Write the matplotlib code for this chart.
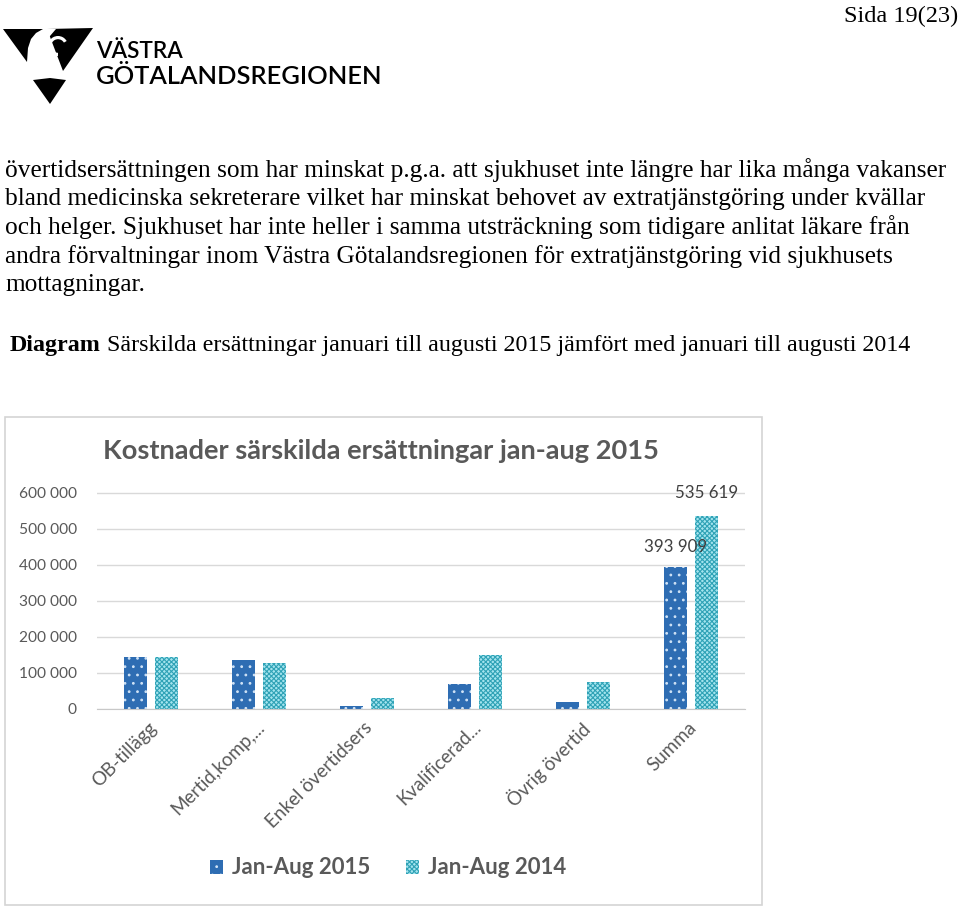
import matplotlib
matplotlib.use("Agg")
import matplotlib.pyplot as plt
from matplotlib.patches import Polygon, Rectangle, Circle, Wedge
import numpy as np

# ---------------- data ----------------
categories = ["OB-tillägg", "Mertid,komp,...", "Enkel övertidsers", "Kvalificerad...", "Övrig övertid", "Summa"]
values_2015 = [145000, 136000, 9000, 70000, 18500, 393909]
values_2014 = [145000, 127000, 31000, 150000, 74000, 535619]
series_names = ["Jan-Aug 2015", "Jan-Aug 2014"]
yticks = [0, 100000, 200000, 300000, 400000, 500000, 600000]
ytick_labels = ["0", "100 000", "200 000", "300 000", "400 000", "500 000", "600 000"]
value_labels_2015 = ["", "", "", "", "", "393 909"]
value_labels_2014 = ["", "", "", "", "", "535 619"]

chart_title = "Kostnader särskilda ersättningar jan-aug 2015"
page_label = "Sida 19(23)"
logo_line1 = "VÄSTRA"
logo_line2 = "GÖTALANDSREGIONEN"
body_lines = [
    "övertidsersättningen som har minskat p.g.a. att sjukhuset inte längre har lika många vakanser",
    "bland medicinska sekreterare vilket har minskat behovet av extratjänstgöring under kvällar",
    "och helger. Sjukhuset har inte heller i samma utsträckning som tidigare anlitat läkare från",
    "andra förvaltningar inom Västra Götalandsregionen för extratjänstgöring vid sjukhusets",
    "mottagningar.",
]
caption_bold = "Diagram"
caption_rest = "Särskilda ersättningar januari till augusti 2015 jämfört med januari till augusti 2014"

W, H = 960, 911
fig = plt.figure(figsize=(W / 100, H / 100), dpi=100)
fig.patch.set_facecolor("white")
renderer = fig.canvas.get_renderer()

# background axes in pixel coordinates
bg = fig.add_axes([0, 0, 1, 1])
bg.set_xlim(0, W)
bg.set_ylim(H, 0)
bg.axis("off")


def fit_width(t, target):
    bb = t.get_window_extent(renderer)
    t.set_fontsize(t.get_fontsize() * target / bb.width)
    return t


SERIF = ["Liberation Serif", "DejaVu Serif"]
SANS = ["Lato", "DejaVu Sans"]

# page header
t = bg.text(958, 22, page_label, family=SERIF, fontsize=14, ha="right", va="baseline", color="black")
fit_width(t, 115)

# logo shapes
bg.add_patch(Polygon([(3, 29), (43, 29), (36, 33), (31, 39), (28, 48), (27, 62)], closed=True, color="black", lw=0))
bg.add_patch(Polygon([(47, 29), (93, 28), (63, 71)], closed=True, color="black", lw=0))
bg.add_patch(Wedge((58, 46), 10, 90, 330, width=3.2, color="white", lw=0))
bg.add_patch(Polygon([(47, 29), (56, 29), (50, 36), (46, 44), (44, 36)], closed=True, color="white", lw=0))
bg.add_patch(Polygon([(33, 80), (50, 78), (66, 80), (50, 104)], closed=True, color="black", lw=0))
t1 = bg.text(96, 58, logo_line1, family=SANS, fontweight="semibold", fontsize=16, ha="left", va="baseline", color="black")
fit_width(t1, 87)
t2 = bg.text(96, 84, logo_line2, family=SANS, fontweight="semibold", fontsize=16, ha="left", va="baseline", color="black")
fit_width(t2, 286)

# body text
baselines = [177, 205.5, 234, 262.5, 291]
first = bg.text(5, baselines[0], body_lines[0], family=SERIF, fontsize=14, ha="left", va="baseline", color="black")
fit_width(first, 947)
fs_body = first.get_fontsize()
for line, yb in zip(body_lines[1:], baselines[1:]):
    bg.text(5, yb, line, family=SERIF, fontsize=fs_body, ha="left", va="baseline", color="black")

# caption
cb = bg.text(10, 351, caption_bold, family=SERIF, fontweight="bold", fontsize=fs_body, ha="left", va="baseline")
cr = bg.text(10, 351, " " + caption_rest, family=SERIF, fontsize=fs_body, ha="left", va="baseline")
wb = cb.get_window_extent(renderer).width
wr = cr.get_window_extent(renderer).width
scale = 900 / (wb + wr)
cb.set_fontsize(fs_body * scale)
cr.set_fontsize(fs_body * scale)
wb = cb.get_window_extent(renderer).width
cr.set_x(10 + wb)

# chart border
bg.add_patch(Rectangle((5, 417), 757, 488, fill=False, edgecolor="#d4d4d4", lw=1.2))

# chart title
tt = bg.text(103, 459, chart_title, family=SANS, fontweight="bold", fontsize=18, ha="left", va="baseline", color="#595959")
fit_width(tt, 560)

# ---------------- chart axes ----------------
px_per_unit = 216.0 / 600000
ymax = 640000
left_px, right_px = 97, 745
zero_px = 709
ax = fig.add_axes([left_px / W, 1 - zero_px / H, (right_px - left_px) / W, ymax * px_per_unit / H])
ax.set_facecolor("none")
ax.patch.set_alpha(0)

plt.rcParams["hatch.linewidth"] = 0.8
x = np.arange(len(categories))
bw = 0.215
off = 0.145
b15 = ax.bar(x - off, values_2015, bw, facecolor="#2e6db3", edgecolor="#cfe2f6", hatch="..", linewidth=0, label=series_names[0], zorder=3)
b14 = ax.bar(x + off, values_2014, bw, facecolor="#a4e4ee", edgecolor="#2fa2b6", hatch="xxxxxxx", linewidth=0, label=series_names[1], zorder=3)

ax.set_xlim(-0.5, len(categories) - 0.5)
ax.set_ylim(0, ymax)
ax.set_yticks(yticks)
ax.set_yticklabels(ytick_labels, family=SANS, fontsize=11.2, color="#595959")
ax.tick_params(axis="y", length=0, pad=14.5)
ax.grid(axis="y", color="#d9d9d9", lw=1, zorder=0)
for s in ["top", "right", "left"]:
    ax.spines[s].set_visible(False)
ax.spines["bottom"].set_color("#c8c8c8")
ax.spines["bottom"].set_zorder(4)

ax.set_xticks(x - 0.03)
ax.set_xticklabels(categories, family=SANS, fontsize=13.5, color="#595959", rotation=45, ha="right", rotation_mode="anchor")
ax.tick_params(axis="x", length=0, pad=7)

ax.bar_label(b15, labels=value_labels_2015, padding=9, family=SANS, fontsize=12.2, color="#404040", zorder=5)
ax.bar_label(b14, labels=value_labels_2014, padding=11, family=SANS, fontsize=12.2, color="#404040", zorder=5)

leg = fig.legend(handles=[b15, b14], labels=series_names, loc="center", bbox_to_anchor=(388 / W, 1 - 868 / H),
                 ncol=2, frameon=False, handlelength=0.6, handleheight=0.6, handletextpad=0.4, columnspacing=1.6,
                 prop={"family": SANS, "weight": "bold", "size": 16})
for txt in leg.get_texts():
    txt.set_color("#595959")

fig.savefig("out.png", dpi=100, facecolor="white")
